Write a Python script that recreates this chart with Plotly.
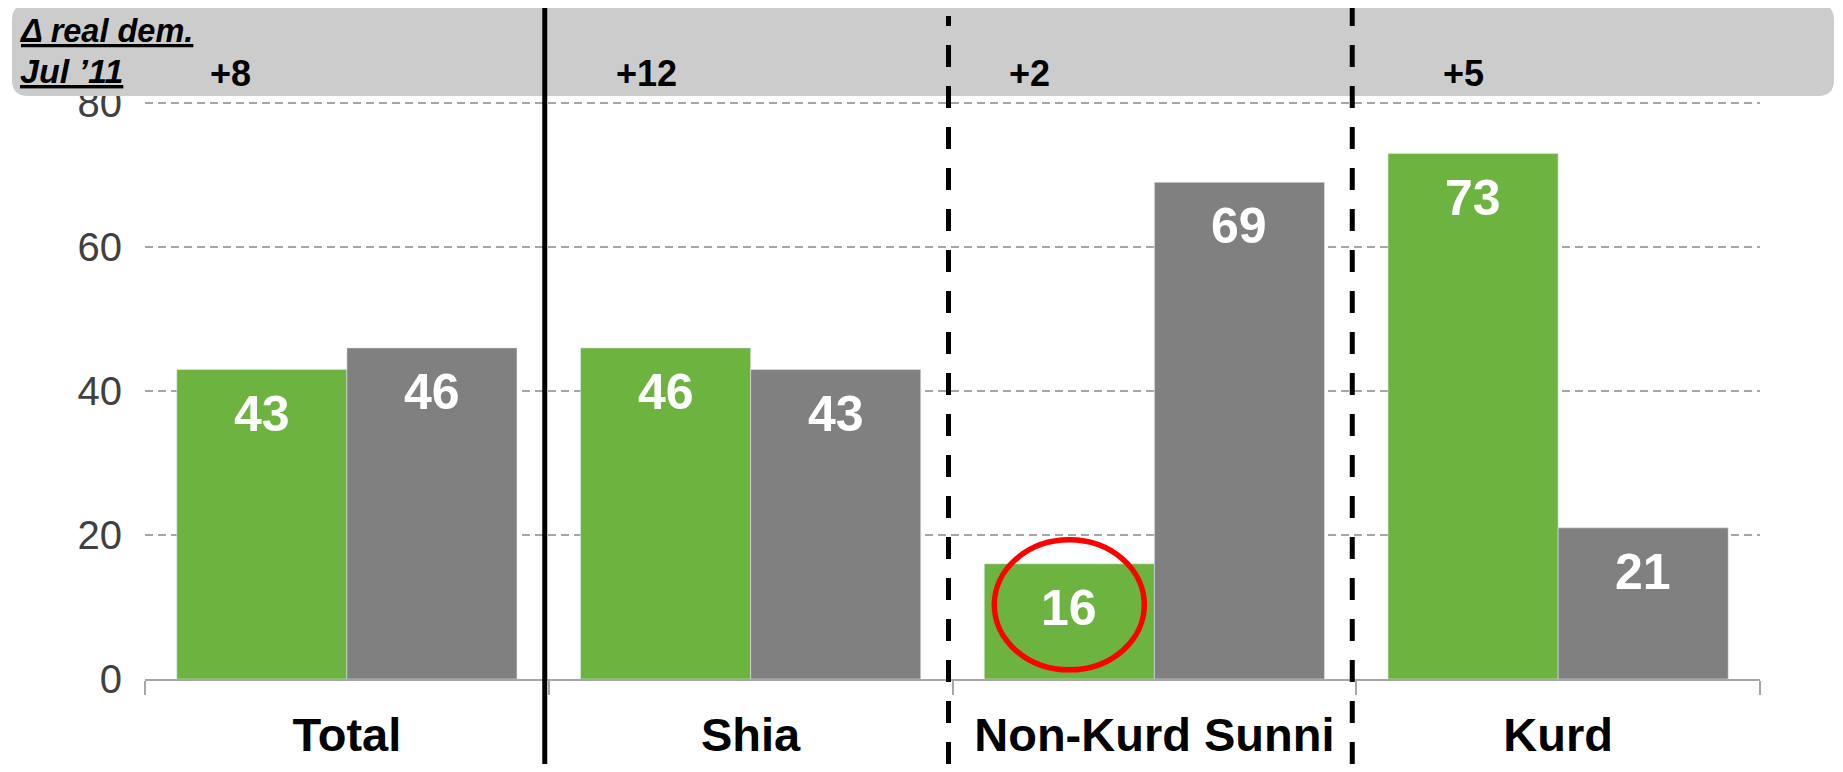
import plotly.graph_objects as go

# ---- data ----
categories = ["Total", "Shia", "Non-Kurd Sunni", "Kurd"]
green_values = [43, 46, 16, 73]
gray_values = [46, 43, 69, 21]
delta_labels = ["+8", "+12", "+2", "+5"]
y_tick_values = [0, 20, 40, 60, 80]
header_line1 = "Δ real dem."
header_line2 = "Jul ’11"
highlight_index = 2  # Non-Kurd Sunni green bar

# ---- layout geometry (page pixels; the page body has an 8px margin) ----
OFF = 8
W, H = 1843 - 2 * OFF, 772 - 2 * OFF
L, R, T, B = 145 - OFF, 1760 - OFF, 96 - OFF, 679 - OFF
FONT = "Liberation Sans, Arial, Helvetica, sans-serif"
GREEN = "#6DB33F"
GRAY = "#808080"
BARGAP = 0.1574


def px_x(p):
    return (p - OFF - L) / (R - L)


def px_y(p):
    return (B - (p - OFF)) / (B - T)


fig = go.Figure()
fig.add_trace(go.Bar(x=categories, y=green_values, marker_color=GREEN,
                     name="Series A", showlegend=False, hoverinfo="x+y"))
fig.add_trace(go.Bar(x=categories, y=gray_values, marker_color=GRAY,
                     name="Series B", showlegend=False, hoverinfo="x+y"))

cat_px = (R - L) / len(categories)
half_bar = (1 - BARGAP) * cat_px / 4

annotations = []
# value labels inside bars
for cat, gv, yv in zip(categories, green_values, gray_values):
    for val, sh in ((gv, -half_bar), (yv, half_bar)):
        annotations.append(dict(
            x=cat, y=val, xref="x", yref="y", text=f"<b>{val}</b>",
            showarrow=False, xshift=sh, yshift=-44, yanchor="middle",
            font=dict(family=FONT, size=50, color="white")))

# header texts
annotations.append(dict(
    x=px_x(17), y=px_y(31), xref="paper", yref="paper", xanchor="left",
    yanchor="middle", showarrow=False, text=f"<b><i><u>{header_line1}</u></i></b>",
    font=dict(family=FONT, size=32.5, color="black")))
annotations.append(dict(
    x=px_x(18), y=px_y(71), xref="paper", yref="paper", xanchor="left",
    yanchor="middle", showarrow=False, text=f"<b><i><u>{header_line2}</u></i></b>",
    font=dict(family=FONT, size=34, color="black")))
delta_shift = [-116, -104, -125, -95]
for cat, lab, sh in zip(categories, delta_labels, delta_shift):
    annotations.append(dict(
        x=cat, y=px_y(73), xref="x", yref="paper", xshift=sh,
        xanchor="center", yanchor="middle", showarrow=False,
        text=f"<b>{lab}</b>", font=dict(family=FONT, size=36, color="black")))

shapes = []
# header box with rounded corners (drawn above the axis labels, like the original)
x0, x1 = px_x(12), (W - 1 - L) / (R - L)
y0, y1 = px_y(96), px_y(4)
rx, ry = 16 / (R - L), 16 / (B - T)
path = (f"M {x0+rx},{y1} L {x1-rx},{y1} Q {x1},{y1} {x1},{y1-ry} "
        f"L {x1},{y0+ry} Q {x1},{y0} {x1-rx},{y0} L {x0+rx},{y0} "
        f"Q {x0},{y0} {x0},{y0+ry} L {x0},{y1-ry} Q {x0},{y1} {x0+rx},{y1} Z")
shapes.append(dict(type="path", path=path, xref="paper", yref="paper",
                   fillcolor="#CCCCCC", line=dict(width=0), layer="above"))

# separators between groups
n = len(categories)
sep_styles = [("solid", px_y(6)), ("22px,19px", px_y(16)), ("22px,19px", px_y(8))]
for i, (dash, ytop) in enumerate(sep_styles):
    xb = (i + 1) / n - 4 / (R - L)
    shapes.append(dict(type="line", xref="paper", yref="paper",
                       x0=xb, x1=xb, y0=-(H - B) / (B - T), y1=ytop,
                       line=dict(color="black", width=5, dash=dash), layer="above"))

# red highlight ellipse around the highlighted value
shapes.append(dict(type="circle", xref="x", yref="y",
                   xsizemode="pixel", ysizemode="pixel",
                   xanchor=highlight_index - (1 - BARGAP) / 4,
                   yanchor=green_values[highlight_index],
                   x0=-75, x1=75, y0=-106, y1=24,
                   line=dict(color="#FF0000", width=5.5), layer="above"))

fig.update_layout(
    width=W, height=H,
    margin=dict(l=L, r=W - R, t=T, b=H - B, pad=0, autoexpand=False),
    paper_bgcolor="white", plot_bgcolor="white",
    barmode="group", bargap=BARGAP, bargroupgap=0,
    annotations=annotations, shapes=shapes,
    font=dict(family=FONT),
    xaxis=dict(
        type="category", range=[-0.5, n - 0.5], showline=True, automargin=False,
        linecolor="#A6A6A6", linewidth=2, ticks="outside", tickson="boundaries",
        ticklen=14, tickcolor="#A6A6A6", tickwidth=1.5, showgrid=False,
        tickfont=dict(family=FONT, size=47, color="black"),
        ticklabelstandoff=14,
        tickvals=categories, ticktext=[f"<b>{c}</b>" for c in categories],
    ),
    yaxis=dict(
        range=[0, 81], tickvals=y_tick_values, showgrid=True, automargin=False,
        gridcolor="#A6A6A6", gridwidth=1.5, griddash="8px,5px",
        zeroline=False, showline=False, ticks="",
        tickfont=dict(family=FONT, size=40, color="#404040"),
        ticklabelstandoff=22,
    ),
)

fig.write_html("out.html")
